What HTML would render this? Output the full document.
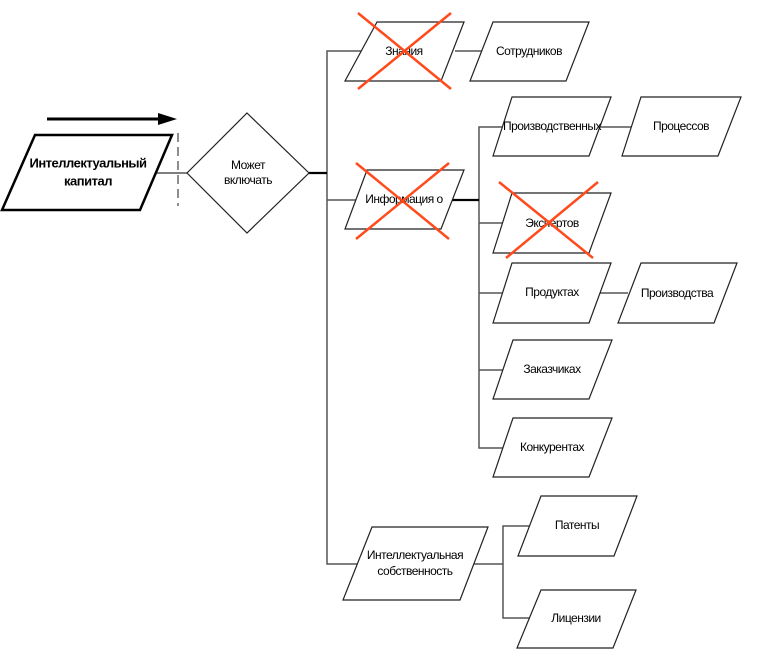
<!DOCTYPE html>
<html><head><meta charset="utf-8"><style>
html,body{margin:0;padding:0;background:#fff;}
svg{display:block;}
text{font-family:"Liberation Sans",sans-serif;font-size:12px;fill:#000;text-anchor:middle;dominant-baseline:middle;letter-spacing:-0.5px;}
</style></head><body>
<svg width="761" height="660" viewBox="0 0 761 660" xmlns="http://www.w3.org/2000/svg">
<g fill="none" stroke="#555" stroke-width="1.5">
<!-- trunk -->
<polyline points="368,51 327,51 327,564 357,564"/>
<line x1="327" y1="200" x2="357" y2="200"/>
<line x1="455" y1="51" x2="482" y2="51"/>
<!-- info vertical -->
<polyline points="505,127 479,127 479,448 505,448"/>
<line x1="479" y1="223" x2="503" y2="223"/>
<line x1="479" y1="293" x2="503" y2="293"/>
<line x1="479" y1="370" x2="503" y2="370"/>
<line x1="600" y1="127" x2="632" y2="127"/>
<line x1="600" y1="293" x2="628" y2="293"/>
<!-- IP -->
<polyline points="474,564 503,564"/>
<polyline points="530,526 503,526 503,618 530,618"/>
<line x1="157" y1="173" x2="187" y2="173"/>
</g>
<g fill="none" stroke="#000" stroke-width="2.2">
<line x1="309" y1="173" x2="327" y2="173"/>
<line x1="452" y1="200" x2="479" y2="200"/>
</g>
<g fill="#fff" stroke="#222" stroke-width="1.2">
<polygon points="377,22 464,22 441,81 345,81"/>
<polygon points="493,22 589,22 566,81 470,81"/>
<polygon points="512,97 611,97 589,156 493,156"/>
<polygon points="641,97 741,97 718,156 622,156"/>
<polygon points="367,170 464,170 441,229 345,229"/>
<polygon points="512,193 611,193 589,253 493,253"/>
<polygon points="512,263 611,263 589,323 493,323"/>
<polygon points="641,263 737,263 714,323 618,323"/>
<polygon points="513,340 612,340 589,399 493,399"/>
<polygon points="513,418 612,418 589,477 493,477"/>
<polygon points="541,496 637,496 614,556 518,556"/>
<polygon points="541,590 636,590 613,648 517,648"/>
<polygon points="372,527 488,527 460,600 343,600"/>
<polygon points="247,113 309,173 247,233 187,173"/>
</g>
<polygon points="35,135 172,135 140,210 2,210" fill="#fff" stroke="#000" stroke-width="2.5"/>
<line x1="47" y1="119" x2="160" y2="119" stroke="#000" stroke-width="3"/>
<polygon points="158,113 177,119 158,125" fill="#000"/>
<line x1="178" y1="133" x2="178" y2="206" stroke="#444" stroke-width="1.2" stroke-dasharray="9,5"/>
<text x="88" y="164" style="font-weight:bold;font-size:13px">Интеллектуальный</text>
<text x="88" y="182" style="font-weight:bold;font-size:13px">капитал</text>
<text x="248" y="166">Может</text>
<text x="248" y="181">включать</text>
<text x="404" y="52">Знания</text>
<text x="529" y="52">Сотрудников</text>
<text x="552" y="127">Производственных</text>
<text x="681" y="127">Процессов</text>
<text x="404" y="200">Информация о</text>
<text x="552" y="224">Экспертов</text>
<text x="552" y="293">Продуктах</text>
<text x="677" y="294">Производства</text>
<text x="552" y="370">Заказчиках</text>
<text x="552" y="448">Конкурентах</text>
<text x="577" y="526">Патенты</text>
<text x="576" y="619">Лицензии</text>
<text x="415" y="556">Интеллектуальная</text>
<text x="415" y="572">собственность</text>
<g stroke="#ff4a1c" stroke-width="2.5">
<line x1="358" y1="13" x2="451" y2="89"/><line x1="451" y1="13" x2="358" y2="89"/>
<line x1="356" y1="163" x2="449" y2="239"/><line x1="449" y1="163" x2="356" y2="239"/>
<line x1="499" y1="182" x2="593" y2="258"/><line x1="598" y1="182" x2="506" y2="258"/>
</g>
</svg>
</body></html>
